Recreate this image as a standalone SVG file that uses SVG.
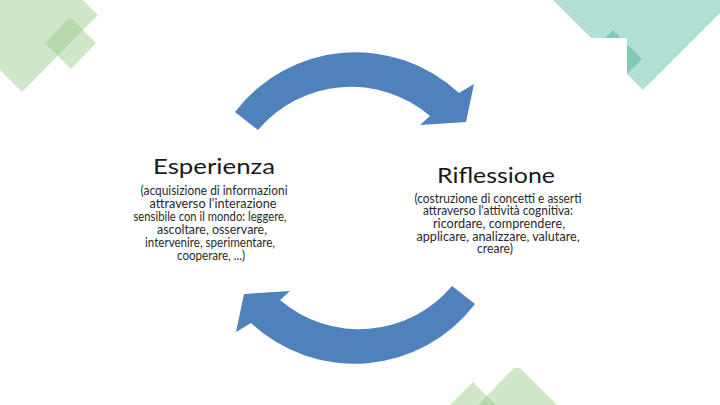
<svg xmlns="http://www.w3.org/2000/svg" width="720" height="405" viewBox="0 0 720 405">
<defs>
<style>
.green{fill:#9fcd91;opacity:0.5}
.arrow{fill:#4f81bd}
.head{font-family:Lato,"Liberation Sans",sans-serif;font-size:22px;fill:#1a1a1a;text-anchor:middle}
.sub{font-family:Lato,"Liberation Sans",sans-serif;font-size:12.5px;fill:#2a2a2a;text-anchor:middle}
</style>
<path id="arc" d="M235,112 A151.5,151.5 0 0 1 459,93 L474,84 L466,122 L420,125 L430,116 A121.5,121.5 0 0 0 258,130 Z"/>
</defs>
<rect width="720" height="405" fill="#ffffff"/>
<g id="deco">
<polygon class="green" points="0,70 22,92 98,15 83,0 0,0"/>
<polygon class="green" points="70,17 96,43 71,69 45,43"/>
<polygon fill="#b3e0d6" points="553,0 643,90 720,13 720,0"/>
<polygon fill="#80cab9" points="613,30 642,59 613,88 584,59"/>
<rect x="560" y="38" width="67" height="90" fill="#ffffff"/>
<polygon class="green" points="450,405 473,382 496,405"/>
<polygon class="green" points="478,405 514,368 520,368 557,405"/>
</g>
<g id="connectors">
<use href="#arc" class="arrow"/>
<use href="#arc" class="arrow" transform="rotate(180 355 208)"/>
</g>
<g id="esperienza">
<text class="head" x="214" y="174" textLength="122" lengthAdjust="spacingAndGlyphs">Esperienza</text>
<text class="sub" x="214" y="195" textLength="147" lengthAdjust="spacingAndGlyphs">(acquisizione di informazioni</text>
<text class="sub" x="213" y="208" textLength="127" lengthAdjust="spacingAndGlyphs">attraverso l'interazione</text>
<text class="sub" x="210" y="221" textLength="153" lengthAdjust="spacingAndGlyphs">sensibile con il mondo: leggere,</text>
<text class="sub" x="212" y="234" textLength="110" lengthAdjust="spacingAndGlyphs">ascoltare, osservare,</text>
<text class="sub" x="210" y="247" textLength="130" lengthAdjust="spacingAndGlyphs">intervenire, sperimentare,</text>
<text class="sub" x="211" y="260" textLength="68" lengthAdjust="spacingAndGlyphs">cooperare, ...)</text>
</g>
<g id="riflessione">
<text class="head" x="496" y="183" textLength="118" lengthAdjust="spacingAndGlyphs">Riflessione</text>
<text class="sub" x="498" y="202.5" textLength="167" lengthAdjust="spacingAndGlyphs">(costruzione di concetti e asserti</text>
<text class="sub" x="498" y="215" textLength="150" lengthAdjust="spacingAndGlyphs">attraverso l'attività cognitiva:</text>
<text class="sub" x="499" y="227.5" textLength="132" lengthAdjust="spacingAndGlyphs">ricordare, comprendere,</text>
<text class="sub" x="498" y="240.5" textLength="163" lengthAdjust="spacingAndGlyphs">applicare, analizzare, valutare,</text>
<text class="sub" x="495" y="253" textLength="36" lengthAdjust="spacingAndGlyphs">creare)</text>
</g>
</svg>
